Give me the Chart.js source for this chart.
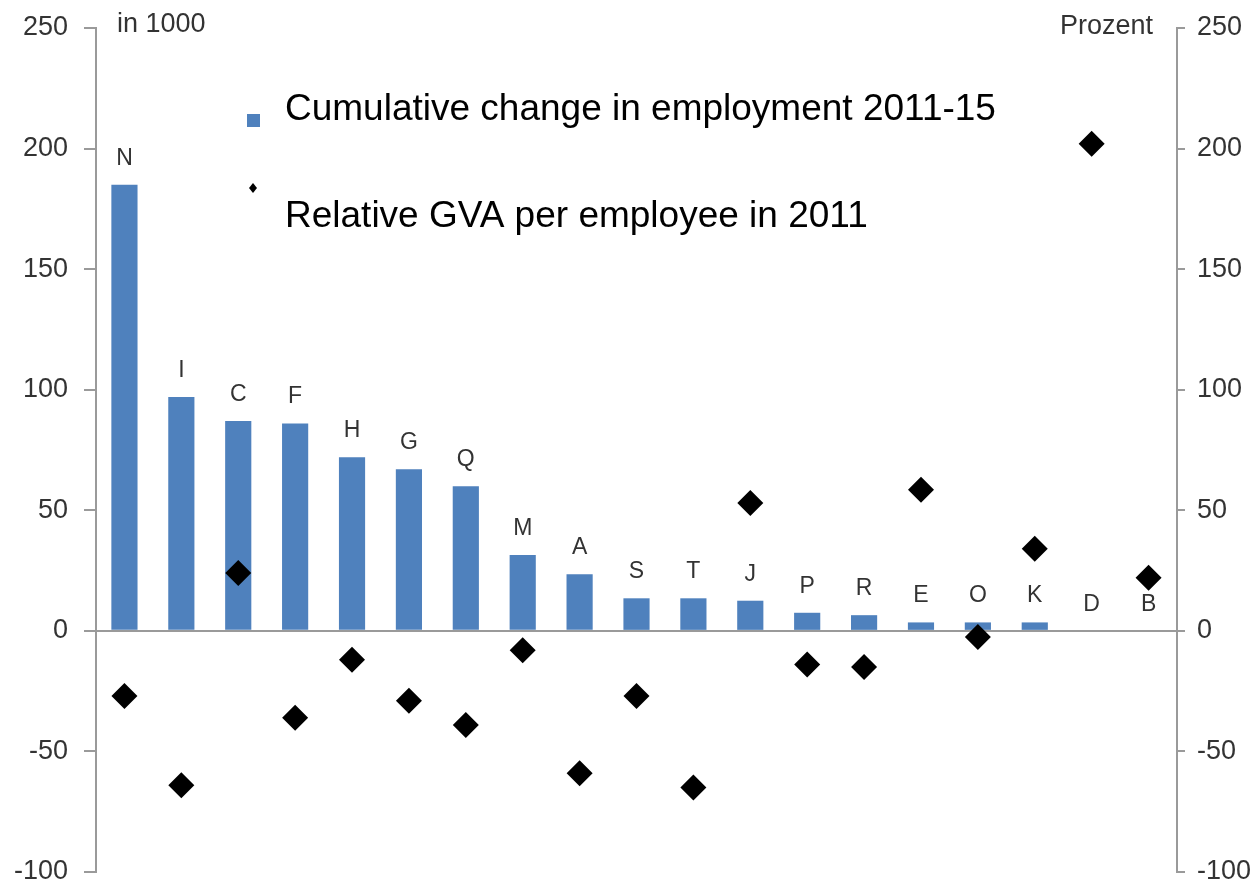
<!DOCTYPE html>
<html>
<head>
<meta charset="utf-8">
<title>Employment change and relative GVA</title>
<script src="https://cdn.jsdelivr.net/npm/chart.js@4.4.1/dist/chart.umd.min.js"></script>
<style>
  html, body { margin: 0; padding: 0; background: #fff; }
  canvas { display: block; }
</style>
</head>
<body>
<canvas id="chart" width="1252" height="888"></canvas>
<script>
// sectors, sorted by employment change
const sectors = ['N', 'I', 'C', 'F', 'H', 'G', 'Q', 'M', 'A', 'S', 'T', 'J', 'P', 'R', 'E', 'O', 'K', 'D', 'B']
// cumulative change in employment 2011-15, in 1000
const employmentChange = [185, 97, 87, 86, 72, 67, 60, 31.5, 23.5, 13.5, 13.5, 12.5, 7.5, 6.5, 3.5, 3.5, 3.5, 0, 0]
// relative GVA per employee in 2011, percent
const relativeGva = [-27, -64, 24, -36, -12, -29, -39, -8, -59, -27, -65, 53, -14, -15, 58.5, -2.5, 34, 202, 22]
const axisTicks = [-100, -50, 0, 50, 100, 150, 200, 250]

const seriesLabels = ['Cumulative change in employment 2011-15', 'Relative GVA per employee in 2011']
const barColor = '#4f81bd'
const axisColor = '#9a9a9a'
const textColor = '#333'
const fontFamily = "'Liberation Sans', Arial, sans-serif"

// letters above each bar
const sectorLabels = {
  id: 'sectorLabels',
  afterDatasetsDraw(chart){
    const { ctx } = chart
    const meta = chart.getDatasetMeta(0)
    ctx.save()
    ctx.fillStyle = textColor
    ctx.font = '23px ' + fontFamily
    ctx.textAlign = 'center'
    ctx.textBaseline = 'alphabetic'
    meta.data.forEach((bar, i) => {
      ctx.fillText(sectors[i], bar.x, bar.y - 20)
    })
    ctx.restore()
  }
}

// unit captions and the legend inside the plot
const captions = {
  id: 'captions',
  afterDraw(chart){
    const { ctx } = chart
    ctx.save()
    ctx.fillStyle = textColor
    ctx.font = '27px ' + fontFamily
    ctx.textBaseline = 'alphabetic'
    ctx.textAlign = 'left'
    ctx.fillText('in 1000', 117, 32)
    ctx.textAlign = 'right'
    ctx.fillText('Prozent', 1153, 34)

    // legend
    ctx.fillStyle = barColor
    ctx.fillRect(247, 114, 13, 13)
    ctx.fillStyle = '#000'
    ctx.beginPath()
    ctx.moveTo(253, 183)
    ctx.lineTo(257, 188)
    ctx.lineTo(253, 193)
    ctx.lineTo(249, 188)
    ctx.closePath()
    ctx.fill()

    ctx.font = '37px ' + fontFamily
    ctx.textAlign = 'left'
    ctx.textBaseline = 'middle'
    ctx.fillText(seriesLabels[0], 285, 110)
    ctx.fillText(seriesLabels[1], 285, 217)
    ctx.restore()
  }
}

const tickFont = { family: fontFamily, size: 27 }

// fixed axis width, label overflow handled by layout padding
const fitAxis = width => scale => {
  scale.width = width
  scale.paddingTop = 0
  scale.paddingBottom = 0
}

new Chart(document.getElementById('chart'), {
  type: 'bar',
  data: {
    labels: sectors,
    datasets: [
      {
        label: seriesLabels[0],
        data: employmentChange,
        backgroundColor: barColor,
        borderWidth: 0,
        categoryPercentage: 1,
        barPercentage: 0.46,
        yAxisID: 'y',
        order: 1
      },
      {
        type: 'line',
        label: seriesLabels[1],
        data: relativeGva,
        showLine: false,
        pointStyle: 'rectRot',
        pointRadius: 13,
        pointBackgroundColor: '#000',
        pointBorderWidth: 0,
        yAxisID: 'y1',
        order: 0
      }
    ]
  },
  options: {
    responsive: false,
    animation: false,
    layout: { padding: { top: 28, bottom: 16, left: 0, right: 0 } },
    plugins: {
      legend: { display: false },
      tooltip: { enabled: false }
    },
    scales: {
      x: {
        display: false,
        offset: true
      },
      y: {
        position: 'left',
        min: -100,
        max: 250,
        afterBuildTicks: scale => { scale.ticks = axisTicks.map(v => ({ value: v })) },
        afterFit: fitAxis(96),
        border: { color: axisColor, width: 2 },
        grid: {
          color: c => c.tick && c.tick.value === 0 ? axisColor : 'rgba(0,0,0,0)', // nur Nulllinie
          lineWidth: 2,
          tickColor: axisColor,
          tickLength: 12
        },
        ticks: { color: textColor, font: tickFont, padding: 16 }
      },
      y1: {
        position: 'right',
        min: -100,
        max: 250,
        afterBuildTicks: scale => { scale.ticks = axisTicks.map(v => ({ value: v })) },
        afterFit: fitAxis(75),
        border: { color: axisColor, width: 2 },
        grid: {
          drawOnChartArea: false,
          lineWidth: 2,
          tickColor: axisColor,
          tickLength: 8
        },
        ticks: { color: textColor, font: tickFont, padding: 12 }
      }
    }
  },
  plugins: [sectorLabels, captions]
})
</script>
</body>
</html>
